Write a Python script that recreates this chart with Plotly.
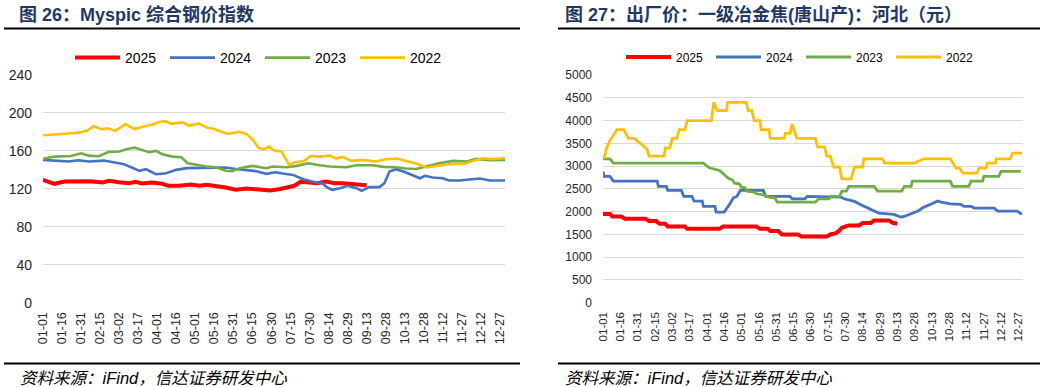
import plotly.graph_objects as go

# ---------------- data ----------------
tick_labels = ["01-01", "01-16", "01-31", "02-15", "03-02", "03-17", "04-01", "04-16",
               "05-01", "05-16", "05-31", "06-15", "06-30", "07-15", "07-30", "08-14",
               "08-29", "09-13", "09-28", "10-13", "10-28", "11-12", "11-27", "12-12", "12-27"]
series_names = ["2025", "2024", "2023", "2022"]

# Myspic composite steel price index (x = day of year, 0 = 01-01)
msp_2025_day = [0, 5, 9, 17, 28, 37, 47, 52, 60, 68, 73, 78, 86, 94, 99, 107, 117, 123, 129, 136,
                144, 152, 160, 168, 176, 179, 186, 193, 198, 203, 210, 216, 223, 230, 236, 243, 249, 255]
msp_2025_val = [129.5, 127.4, 125.3, 127.7, 128.1, 128.1, 126.7, 128.4, 127.0, 126.0, 127.4, 125.6,
                126.7, 125.3, 123.2, 123.2, 124.6, 123.2, 124.2, 123.2, 121.4, 119.0, 120.4, 119.6,
                119.0, 118.3, 119.6, 121.4, 123.2, 127.4, 126.7, 126.0, 127.7, 126.0, 126.0, 124.9,
                124.2, 123.9]

msp_2024_day = [0, 9, 20, 28, 36, 48, 56, 63, 70, 76, 81, 89, 97, 105, 113, 123, 134, 144, 152, 160,
                168, 176, 183, 189, 197, 205, 213, 220, 224, 228, 234, 240, 247, 251, 257, 265, 269,
                273, 278, 284, 290, 297, 301, 307, 315, 320, 328, 336, 344, 352, 364]
msp_2024_val = [150.5, 149.5, 148.8, 150.2, 148.8, 149.8, 147.7, 146.3, 142.5, 139.0, 140.7, 135.4,
                136.5, 140.0, 141.8, 142.1, 142.8, 142.5, 141.0, 140.0, 138.6, 135.8, 137.5, 136.1,
                134.7, 130.2, 127.4, 126.0, 121.4, 119.0, 120.7, 123.2, 120.7, 117.9, 121.8, 121.8,
                126.0, 138.2, 140.7, 138.2, 134.7, 131.2, 133.7, 131.9, 131.2, 128.8, 128.8, 130.2,
                130.9, 128.8, 128.8]

msp_2023_day = [0, 9, 22, 30, 36, 44, 52, 60, 66, 72, 78, 84, 89, 94, 102, 109, 114, 123, 129, 136,
                144, 149, 155, 165, 176, 181, 192, 200, 209, 218, 226, 239, 247, 260, 268, 278, 286,
                294, 302, 312, 323, 334, 341, 352, 364]
msp_2023_val = [151.6, 154.0, 154.7, 157.5, 155.0, 154.4, 159.0, 159.3, 161.8, 163.5, 161.0, 158.6,
                160.0, 156.5, 154.0, 153.3, 147.0, 144.9, 143.5, 142.8, 139.0, 138.6, 141.8, 144.2,
                141.8, 143.5, 142.8, 144.2, 147.0, 144.9, 143.5, 142.8, 144.9, 144.9, 143.2, 142.8,
                141.4, 141.0, 143.5, 147.0, 149.5, 148.8, 151.6, 150.2, 150.5]

msp_2022_day = [0, 8, 18, 28, 35, 40, 46, 52, 57, 65, 72, 80, 86, 92, 96, 101, 110, 115, 123, 129,
                135, 140, 146, 154, 160, 165, 170, 174, 178, 182, 188, 194, 198, 206, 211, 218, 226,
                231, 236, 243, 252, 262, 270, 279, 287, 295, 302, 310, 320, 331, 338, 346, 354, 364]
msp_2022_val = [176.5, 177.0, 178.0, 179.3, 181.5, 186.0, 183.0, 183.5, 181.2, 188.3, 183.0, 186.0,
                187.5, 190.7, 191.3, 188.8, 190.0, 186.5, 189.0, 184.6, 183.0, 180.5, 177.8, 180.2,
                178.0, 172.3, 163.0, 161.8, 164.5, 160.3, 159.3, 145.3, 147.7, 149.5, 154.7, 154.0,
                155.0, 151.9, 153.7, 149.5, 150.5, 148.8, 151.2, 151.9, 148.8, 146.3, 142.5, 144.2,
                146.0, 146.3, 148.8, 152.3, 151.2, 152.6]

# Ex-factory price, grade-1 metallurgical coke (Tangshan), Hebei (yuan)
coke_2025_day = [0, 6, 8, 16, 19, 37, 40, 46, 49, 54, 56, 71, 73, 101, 104, 133, 136, 143, 145, 152,
                 155, 169, 172, 194, 197, 202, 205, 207, 213, 222, 225, 232, 235, 248, 251, 255]
coke_2025_val = [1950, 1950, 1894, 1894, 1843, 1843, 1792, 1792, 1733, 1733, 1675, 1675, 1623, 1623,
                 1675, 1675, 1623, 1623, 1572, 1572, 1499, 1499, 1455, 1455, 1499, 1528, 1587, 1645,
                 1697, 1697, 1748, 1748, 1807, 1807, 1755, 1733]

coke_2024_day = [0, 1, 6, 9, 47, 48, 55, 56, 68, 70, 77, 79, 86, 87, 97, 98, 105, 108, 110, 113, 116,
                 119, 139, 141, 162, 164, 175, 177, 206, 209, 218, 223, 228, 232, 239, 252, 258, 261,
                 267, 273, 277, 281, 285, 290, 293, 301, 310, 313, 319, 322, 339, 342, 359, 363]
coke_2024_val = [2882, 2772, 2772, 2670, 2670, 2553, 2553, 2465, 2465, 2333, 2333, 2231, 2231, 2114,
                 2114, 1989, 1989, 2084, 2172, 2304, 2333, 2465, 2465, 2333, 2333, 2282, 2282, 2333,
                 2319, 2282, 2224, 2158, 2099, 2040, 1967, 1938, 1880, 1894, 1953, 2011, 2084, 2136,
                 2172, 2231, 2209, 2172, 2158, 2114, 2114, 2077, 2077, 2011, 2011, 1938]

coke_2023_day = [0, 6, 9, 87, 92, 95, 101, 105, 108, 112, 114, 118, 120, 123, 125, 131, 133, 139, 144,
                 149, 151, 184, 187, 196, 197, 205, 207, 211, 213, 235, 238, 259, 261, 267, 268, 301,
                 303, 317, 319, 329, 330, 343, 345, 362]
coke_2023_val = [3160, 3160, 3065, 3065, 2963, 2941, 2904, 2816, 2743, 2699, 2626, 2611, 2538, 2524,
                 2450, 2428, 2392, 2370, 2319, 2304, 2209, 2209, 2282, 2282, 2333, 2333, 2450, 2450,
                 2553, 2553, 2450, 2450, 2553, 2553, 2670, 2670, 2553, 2553, 2670, 2670, 2772, 2772,
                 2882, 2882]

coke_2022_day = [1, 3, 6, 9, 12, 18, 22, 27, 38, 40, 53, 54, 58, 60, 64, 66, 71, 73, 94, 96, 99, 107,
                 108, 124, 126, 129, 131, 136, 137, 144, 145, 157, 158, 162, 164, 168, 184, 186, 192,
                 194, 197, 200, 205, 207, 215, 218, 225, 226, 242, 244, 270, 278, 301, 306, 309, 312,
                 324, 326, 332, 333, 340, 341, 353, 355, 363]
coke_2022_val = [3160, 3380, 3560, 3670, 3800, 3800, 3610, 3610, 3380, 3220, 3220, 3400, 3400, 3610,
                 3610, 3800, 3800, 4000, 4000, 4400, 4220, 4220, 4400, 4400, 4220, 4220, 4000, 4000,
                 3800, 3800, 3610, 3610, 3720, 3720, 3920, 3610, 3610, 3420, 3420, 3220, 3220, 2980,
                 2980, 2720, 2720, 2980, 2980, 3160, 3160, 3065, 3065, 3160, 3160, 2955, 2955, 2846,
                 2846, 2955, 2955, 3065, 3065, 3160, 3160, 3285, 3285]

colors = {"2025": "#FF0000", "2024": "#4472C4", "2023": "#70AD47", "2022": "#FFC000"}

# ---------------- figure ----------------
W, H = 1046, 387
fig = go.Figure()

left = {"2025": (msp_2025_day, msp_2025_val), "2024": (msp_2024_day, msp_2024_val),
        "2023": (msp_2023_day, msp_2023_val), "2022": (msp_2022_day, msp_2022_val)}
right = {"2025": (coke_2025_day, coke_2025_val), "2024": (coke_2024_day, coke_2024_val),
         "2023": (coke_2023_day, coke_2023_val), "2022": (coke_2022_day, coke_2022_val)}

for name in series_names:
    d, v = left[name]
    fig.add_trace(go.Scatter(x=d, y=v, mode="lines", name=name, xaxis="x", yaxis="y",
                             line=dict(color=colors[name], width=4 if name == "2025" else 2.6),
                             legend="legend"))
for name in series_names:
    d, v = right[name]
    fig.add_trace(go.Scatter(x=d, y=v, mode="lines", name=name, xaxis="x2", yaxis="y2",
                             line=dict(color=colors[name], width=4 if name == "2025" else 2.8),
                             legend="legend2"))

tickvals = [i * 15 for i in range(len(tick_labels))]
ydom = [1 - 302.7 / H, 1 - 75 / H]
axis_font = "Liberation Sans, Arial, sans-serif"

fig.update_layout(
    width=W, height=H, margin=dict(l=0, r=0, t=0, b=0, autoexpand=False),
    paper_bgcolor="white", plot_bgcolor="white",
    font=dict(family=axis_font, color="#262626"),
    xaxis=dict(domain=[43 / W, 505 / W], range=[0, 364], tickvals=tickvals, ticktext=tick_labels,
               tickangle=-90, tickfont=dict(size=12.5), showgrid=False, zeroline=False,
               showline=False, ticks="", ticklabelstandoff=6, anchor="y"),
    yaxis=dict(domain=ydom, range=[0, 240], dtick=40, tickfont=dict(size=14), gridcolor="#d9d9d9",
               gridwidth=1.3, zeroline=False, showline=False, ticks="", ticklabelstandoff=10,
               anchor="x"),
    xaxis2=dict(domain=[603 / W, 1023 / W], range=[0, 364], tickvals=tickvals, ticktext=tick_labels,
                tickangle=-90, tickfont=dict(size=11.5), showgrid=False, zeroline=False,
                showline=False, ticks="", ticklabelstandoff=6, anchor="y2"),
    yaxis2=dict(domain=ydom, range=[0, 5000], dtick=500, tickfont=dict(size=12), gridcolor="#d9d9d9",
                gridwidth=1.3, zeroline=False, showline=False, ticks="", ticklabelstandoff=10,
                anchor="x2"),
    legend=dict(orientation="h", x=70 / W, y=1 - 58 / H, xanchor="left", yanchor="middle",
                font=dict(size=14, color="#000"), itemwidth=45, entrywidth=35,
                entrywidthmode="pixels", bgcolor="rgba(0,0,0,0)", traceorder="normal"),
    legend2=dict(orientation="h", x=621 / W, y=1 - 57 / H, xanchor="left", yanchor="middle",
                 font=dict(size=12, color="#000"), itemwidth=45, entrywidth=30,
                 entrywidthmode="pixels", bgcolor="rgba(0,0,0,0)", traceorder="normal"),
    showlegend=True,
)

title_font = dict(family="Liberation Sans, Noto Sans CJK SC", size=18, color="#1F3864")
fig.add_annotation(text="<b>图 26：Myspic 综合钢价指数</b>", x=17 / W, y=1 - 15 / H, xref="paper",
                   yref="paper", xanchor="left", yanchor="middle", showarrow=False, font=title_font)
fig.add_annotation(text="<b>图 27：出厂价：一级冶金焦(唐山产)：河北（元）</b>", x=563 / W, y=1 - 15 / H,
                   xref="paper", yref="paper", xanchor="left", yanchor="middle", showarrow=False,
                   font=title_font)

src_font = dict(family="Liberation Sans, Noto Sans CJK SC", size=16.5, color="#000")
fig.add_annotation(text="<i>资料来源：iFind，信达证券研发中心</i>", x=18 / W, y=1 - 378 / H, xref="paper",
                   yref="paper", xanchor="left", yanchor="middle", showarrow=False, font=src_font)
fig.add_annotation(text="<i>资料来源：iFind，信达证券研发中心</i>", x=563 / W, y=1 - 378 / H, xref="paper",
                   yref="paper", xanchor="left", yanchor="middle", showarrow=False, font=src_font)

for (x0, x1) in [(4, 520), (558, 1040)]:
    for yy in [28.5, 363.5]:
        fig.add_shape(type="line", xref="paper", yref="paper", x0=x0 / W, x1=x1 / W,
                      y0=1 - yy / H, y1=1 - yy / H, line=dict(color="black", width=2))

fig.write_html("out.html", config={"displayModeBar": False},
               post_script="document.body.style.margin='0';document.body.style.overflow='hidden';")
